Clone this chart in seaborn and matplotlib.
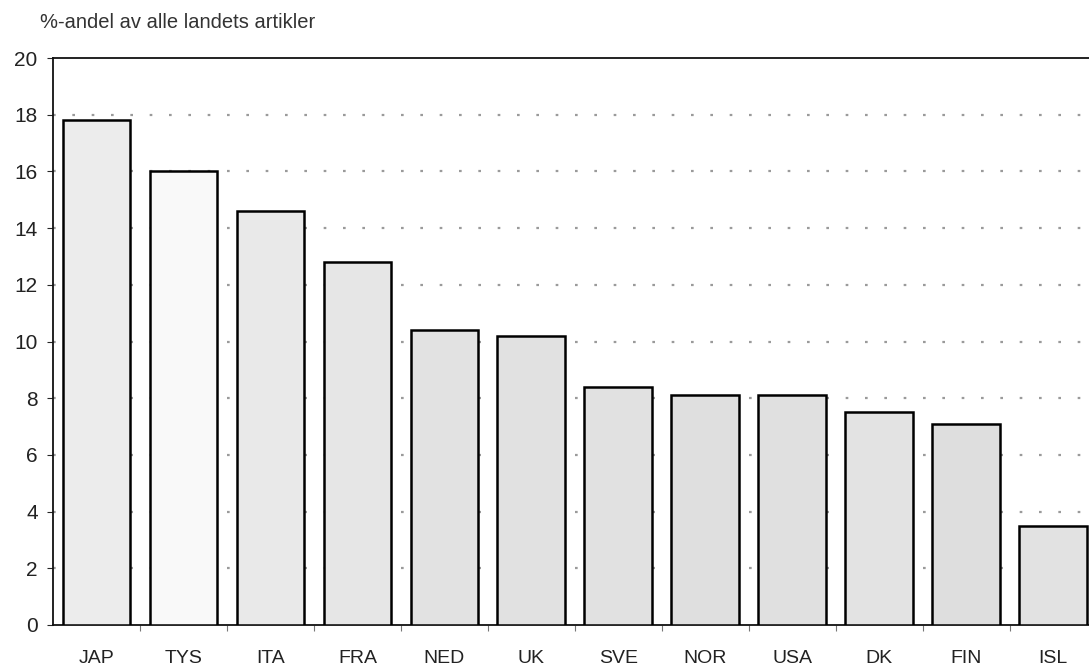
import matplotlib
matplotlib.use('Agg')
import matplotlib.pyplot as plt
import seaborn as sns
import pandas as pd

# ── Data ──────────────────────────────────────────────────────────────────────
countries = ['JAP', 'TYS', 'ITA', 'FRA', 'NED', 'UK',
             'SVE', 'NOR', 'USA', 'DK', 'FIN', 'ISL']
shares = [17.8, 16.0, 14.6, 12.8, 10.4, 10.2,
          8.4, 8.1, 8.1, 7.5, 7.1, 3.5]
y_ticks = [0, 2, 4, 6, 8, 10, 12, 14, 16, 18, 20]

fills = ['#ececec', '#f9f9f9', '#e9e9e9', '#e6e6e6', '#e2e2e2', '#e1e1e1',
         '#e1e1e1', '#dfdfdf', '#e0e0e0', '#e3e3e3', '#dedede', '#e2e2e2']

df = pd.DataFrame({'land': countries, 'andel': shares})

sns.set_style('white')
plt.rcParams['font.family'] = ['Liberation Sans', 'DejaVu Sans']

fig = plt.figure(figsize=(10.89, 6.67), dpi=100)
ax = fig.add_axes([53 / 1089, 42 / 667, 1036 / 1089, 567 / 667])

sns.barplot(data=df, x='land', y='andel', hue='land', palette=fills,
            legend=False, width=0.78, edgecolor='black', linewidth=1.8,
            saturation=1, ax=ax, zorder=3)

# dotted grid
for v in y_ticks[1:-1]:
    ax.axhline(v, color='#9a9a9a', linestyle=(0, (1.2, 7.5)), linewidth=1.6, zorder=1)

ax.set_ylim(0, 20)
ax.set_xlim(-0.5, 11.41)
ax.set_yticks(y_ticks)
ax.set_yticklabels([str(v) for v in y_ticks], fontsize=15, color='#222222')
ax.tick_params(axis='y', length=4, width=0.8, pad=7, left=True)
ax.tick_params(axis='x', length=0, pad=18, labelsize=14, labelcolor='#222222')
ax.set_xticks(range(len(countries)))
ax.set_xticks([i + 0.5 for i in range(len(countries) - 1)], minor=True)
ax.tick_params(axis='x', which='minor', length=4, width=0.8, bottom=True,
               color='#777777')
ax.set_xlabel('')
ax.set_ylabel('')

for side in ['left', 'bottom', 'top']:
    ax.spines[side].set_color('#111111')
    ax.spines[side].set_linewidth(1.3)
ax.spines['right'].set_visible(False)

fig.text(40 / 1089, 1 - 22 / 667, '%-andel av alle landets artikler',
         fontsize=14.5, color='#333333', va='center', ha='left')

fig.savefig('out.png', dpi=100)
